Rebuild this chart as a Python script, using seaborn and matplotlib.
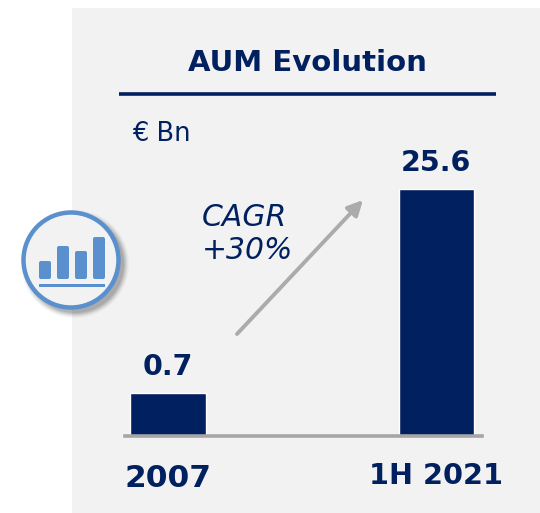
import matplotlib
matplotlib.use("Agg")
import matplotlib.pyplot as plt
import seaborn as sns
import pandas as pd
from matplotlib.patches import Circle, Rectangle, FancyBboxPatch

periods = ['2007', '1H 2021']
# the 2007 bar is not drawn to scale in the original, so heights are read off the picture
bar_heights = [4.45, 25.6]
value_labels = ['0.7', '25.6']
icon_bars = [18, 33, 28, 42]

navy = '#00205F'
blue = '#5B90CE'
sns.set_theme(style='white')
plt.rcParams['font.family'] = ['DejaVu Sans']

W, H = 540, 513
fig = plt.figure(figsize=(W / 100, H / 100), dpi=100, facecolor='white')

# grey panel behind everything
bg = fig.add_axes([0, 0, 1, 1])
bg.set_xlim(0, W)
bg.set_ylim(H, 0)
bg.axis('off')
bg.add_patch(Rectangle((72, 8), 468, 505, color='#F2F2F2', lw=0))
bg.plot([119, 496], [94, 94], color=navy, lw=2.6, solid_capstyle='butt')
bg.text(307, 63, 'AUM Evolution', color=navy, fontsize=21, fontweight='bold', ha='center', va='center')
bg.text(132, 134, '€ Bn', color=navy, fontsize=18.5, ha='left', va='center')
bg.text(202, 234, 'CAGR\n+30%', color=navy, fontsize=21.5, style='italic', ha='left', va='center', linespacing=1.2)
bg.annotate('', xy=(363, 200), xytext=(237, 334),
            arrowprops=dict(arrowstyle='-|>,head_width=0.3,head_length=0.6', color='#ABABAB', lw=2.8,
                            shrinkA=0, shrinkB=0, mutation_scale=15))

# bar chart
ax = fig.add_axes([125 / W, 1 - 436 / H, 357 / W, (436 - 170) / H])
ax.patch.set_alpha(0)
df = pd.DataFrame({'period': periods, 'height': bar_heights})
sns.barplot(data=df, x='period', y='height', color=navy, saturation=1, width=0.28, ax=ax)
ax.set_xlim(-0.16, 1.17)
ax.set_ylim(0, 25.6 * 266 / 247)
ax.set_xlabel('')
ax.set_ylabel('')
ax.set_yticks([])
ax.set_xticks([0, 1])
ax.set_xticklabels(periods, color=navy, fontweight='bold')
ax.tick_params(axis='x', length=0)
ticks = ax.xaxis.get_major_ticks()
ticks[0].label1.set_fontsize(22.5)
ticks[1].label1.set_fontsize(20.7)
ticks[0].set_pad(20)
ticks[1].set_pad(19)
for s in ['top', 'left', 'right']:
    ax.spines[s].set_visible(False)
ax.spines['bottom'].set_color('#A6A6A6')
ax.spines['bottom'].set_linewidth(2.6)
for c, lab in zip(ax.patches, value_labels):
    ax.text(c.get_x() + c.get_width() / 2, c.get_height() + 1.25, lab, color=navy,
            fontsize=20.5, fontweight='bold', ha='center', va='bottom')

# round icon on the left
ic = fig.add_axes([0, 0, 1, 1], zorder=5)
ic.set_xlim(0, W)
ic.set_ylim(H, 0)
ic.axis('off')
for r, a in zip([54, 53, 52, 51, 50, 49], [0.04, 0.06, 0.08, 0.1, 0.12, 0.15]):
    ic.add_patch(Circle((75, 264), r, color='#555555', alpha=a, lw=0))
ic.add_patch(Circle((71, 260), 47.5, facecolor='#F2F2F2', edgecolor=blue, lw=3.2))
for x, h in zip([39, 57, 75, 93], icon_bars):
    ic.add_patch(FancyBboxPatch((x + 2, 279 - h + 2), 8, h - 4, boxstyle='round,pad=2',
                                facecolor=blue, edgecolor='none'))
ic.add_patch(Rectangle((39, 283.5), 66, 3.5, color=blue, lw=0))

fig.savefig('out.png', dpi=100)
